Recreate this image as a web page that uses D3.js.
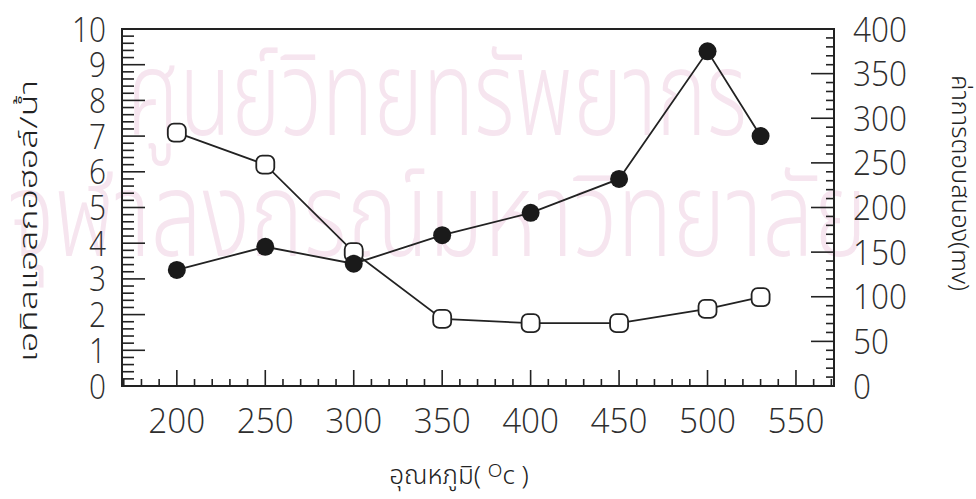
<!DOCTYPE html>
<html>
<head>
<meta charset="utf-8">
<script src="https://cdn.jsdelivr.net/npm/d3@7"></script>
<style>
  body { margin: 0; background: #fff; }
  .tick-num { font-family: "Open Sans", "DejaVu Sans", sans-serif; font-weight: 300; font-size: 35px; fill: #2e2e2e; }
  .thai { font-family: "Noto Sans Thai", "Noto Sans", "Loma", "Garuda", sans-serif; font-weight: 300; fill: #222; }
</style>
</head>
<body>
<svg id="chart"></svg>
<script>
// temperature (deg C)
var temps = [200, 250, 300, 350, 400, 450, 500, 530];
// open markers, left axis
var ratio = [7.1, 6.2, 3.75, 1.88, 1.76, 1.76, 2.16, 2.49];
// filled markers, right axis (mV)
var response = [130, 156, 137, 169, 194, 232, 375, 280];

var xTicks = [200, 250, 300, 350, 400, 450, 500, 550];
var leftTicks = [0, 1, 2, 3, 4, 5, 6, 7, 8, 9, 10];
var rightTicks = [0, 50, 100, 150, 200, 250, 300, 350, 400];

var width = 976, height = 499;
var svg = d3.select("#chart").attr("width", width).attr("height", height);

var pL = 122, pR = 834, pT = 29, pB = 386;

var x = d3.scaleLinear().domain([169, 571.5]).range([pL, pR]);
var yL = d3.scaleLinear().domain([0, 10]).range([pB, pT]);
var yR = d3.scaleLinear().domain([0, 400]).range([pB, pT]);

// watermark (faint pink, behind everything)
var wm = svg.append("g").attr("class", "thai").style("fill", "#f6e5ef").style("font-weight", 300);
wm.append("text")
    .attr("x", 437).attr("y", 135)
    .attr("text-anchor", "middle")
    .style("font-size", "118px")
    .attr("textLength", 620)
    .attr("lengthAdjust", "spacingAndGlyphs")
    .text("ศูนย์วิทยทรัพยากร");
wm.append("text")
    .attr("x", 437).attr("y", 256)
    .attr("text-anchor", "middle")
    .style("font-size", "118px")
    .attr("textLength", 860)
    .attr("lengthAdjust", "spacingAndGlyphs")
    .text("จุฬาลงกรณ์มหาวิทยาลัย");

// frame
svg.append("rect")
    .attr("x", pL).attr("y", pT)
    .attr("width", pR - pL).attr("height", pB - pT)
    .style("fill", "none").style("stroke", "#222").style("stroke-width", 2);

function digitsLen(d, w) { return String(d).length * w; }

// left axis ticks (inside)
var leftMinor = d3.range(0, 10.01, 0.2);
svg.append("g").selectAll("line")
    .data(leftMinor).enter().append("line")
    .attr("x1", pL)
    .attr("x2", function(d) { return pL + (Math.abs(d - Math.round(d)) < 1e-6 ? 23 : 12); })
    .attr("y1", function(d) { return yL(d); })
    .attr("y2", function(d) { return yL(d); })
    .style("stroke", "#222").style("stroke-width", 1.6);

svg.append("g").selectAll("text")
    .data(leftTicks).enter().append("text")
    .attr("class", "tick-num")
    .attr("x", 106)
    .attr("y", function(d) { return yL(d) + 12.5; })
    .attr("text-anchor", "end")
    .attr("textLength", function(d) { return digitsLen(d, 17); })
    .attr("lengthAdjust", "spacingAndGlyphs")
    .text(function(d) { return d; });

// right axis ticks (inside)
var rightMinor = d3.range(0, 400.1, 10);
svg.append("g").selectAll("line")
    .data(rightMinor).enter().append("line")
    .attr("x1", pR)
    .attr("x2", function(d) { return pR - (d % 50 == 0 ? 23 : 8); })
    .attr("y1", function(d) { return yR(d); })
    .attr("y2", function(d) { return yR(d); })
    .style("stroke", "#222").style("stroke-width", 1.6);

svg.append("g").selectAll("text")
    .data(rightTicks).enter().append("text")
    .attr("class", "tick-num")
    .attr("x", 853)
    .attr("y", function(d) { return yR(d) + 12.5; })
    .attr("textLength", function(d) { return digitsLen(d, 18); })
    .attr("lengthAdjust", "spacingAndGlyphs")
    .text(function(d) { return d; });

// x axis ticks (inside, pointing up)
var xMinor = d3.range(170, 571, 10);
svg.append("g").selectAll("line")
    .data(xMinor).enter().append("line")
    .attr("x1", function(d) { return x(d); })
    .attr("x2", function(d) { return x(d); })
    .attr("y1", pB)
    .attr("y2", function(d) { return pB - (d % 50 == 0 ? 16 : 7); })
    .style("stroke", "#222").style("stroke-width", 1.6);

svg.append("g").selectAll("text")
    .data(xTicks).enter().append("text")
    .attr("class", "tick-num")
    .attr("x", function(d) { return x(d); })
    .attr("y", 433)
    .attr("text-anchor", "middle")
    .attr("textLength", function(d) { return digitsLen(d, 19); })
    .attr("lengthAdjust", "spacingAndGlyphs")
    .text(function(d) { return d; });

// axis titles
svg.append("text")
    .attr("class", "thai")
    .attr("transform", "translate(37,221) rotate(-90)")
    .attr("text-anchor", "middle")
    .style("font-size", "24px")
    .attr("textLength", 282)
    .attr("lengthAdjust", "spacingAndGlyphs")
    .text("เอทิลแอลกอฮอล์/น้ำ");

svg.append("text")
    .attr("class", "thai")
    .attr("transform", "translate(952,183) rotate(90)")
    .attr("text-anchor", "middle")
    .style("font-size", "24px")
    .attr("textLength", 216)
    .attr("lengthAdjust", "spacingAndGlyphs")
    .text("ค่าการตอบสนอง(mv)");

var xt = svg.append("text")
    .attr("class", "thai")
    .attr("x", 459).attr("y", 484)
    .attr("text-anchor", "middle")
    .style("font-size", "26px");
xt.append("tspan").text("อุณหภูมิ( ");
xt.append("tspan").attr("dy", -7).style("font-size", "19px").text("O");
xt.append("tspan").attr("dy", 7).text("c )");

// lines
var lineL = d3.line()
    .x(function(d, i) { return x(temps[i]); })
    .y(function(d) { return yL(d); });
var lineR = d3.line()
    .x(function(d, i) { return x(temps[i]); })
    .y(function(d) { return yR(d); });

svg.append("path").datum(ratio).attr("d", lineL)
    .style("fill", "none").style("stroke", "#222").style("stroke-width", 1.8);
svg.append("path").datum(response).attr("d", lineR)
    .style("fill", "none").style("stroke", "#222").style("stroke-width", 1.8);

// open markers
svg.append("g").selectAll("rect")
    .data(ratio).enter().append("rect")
    .attr("x", function(d, i) { return x(temps[i]) - 9; })
    .attr("y", function(d) { return yL(d) - 9; })
    .attr("width", 18).attr("height", 18)
    .attr("rx", 6).attr("ry", 6)
    .style("fill", "#fff").style("stroke", "#222").style("stroke-width", 1.8);

// filled markers
svg.append("g").selectAll("circle")
    .data(response).enter().append("circle")
    .attr("cx", function(d, i) { return x(temps[i]); })
    .attr("cy", function(d) { return yR(d); })
    .attr("r", 9)
    .style("fill", "#1a1a1a");
</script>
</body>
</html>
